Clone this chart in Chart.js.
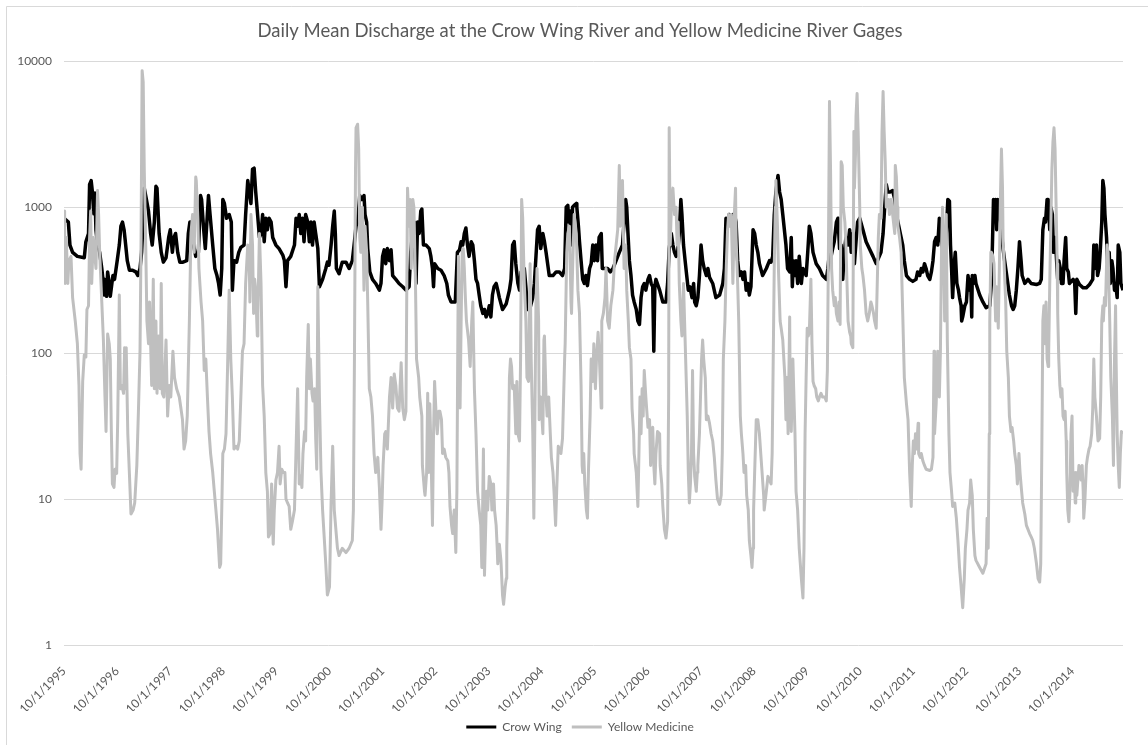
<!DOCTYPE html>
<html>
<head>
<meta charset="utf-8">
<script src="https://cdn.jsdelivr.net/npm/chart.js@4.4.1/dist/chart.umd.min.js"></script>
<style>
  html, body { margin: 0; padding: 0; background: #ffffff; }
  canvas { display: block; }
</style>
</head>
<body>
<canvas id="chart" width="1148" height="745"></canvas>
<script>
// Daily mean discharge (cfs), sampled along each hydrograph; x is the decimal year.
const crowWingYear = [
  1995.75,1995.83,1995.86,1995.91,1996.00,1996.13,1996.16,1996.21,1996.23,1996.26,1996.28,1996.31,1996.33,1996.35,1996.38,1996.42,
  1996.46,1996.49,1996.50,1996.52,1996.55,1996.57,1996.60,1996.62,1996.65,1996.67,1996.70,1996.72,1996.75,1996.79,1996.82,1996.85,
  1996.88,1996.91,1996.94,1996.98,1997.04,1997.10,1997.14,1997.18,1997.21,1997.25,1997.26,1997.30,1997.34,1997.38,1997.41,1997.45,
  1997.48,1997.50,1997.54,1997.58,1997.62,1997.67,1997.72,1997.75,1997.79,1997.82,1997.85,1997.89,1997.93,1997.99,1998.06,1998.09,
  1998.12,1998.16,1998.19,1998.23,1998.28,1998.32,1998.34,1998.38,1998.41,1998.44,1998.47,1998.50,1998.55,1998.59,1998.63,1998.66,
  1998.69,1998.72,1998.74,1998.77,1998.81,1998.86,1998.90,1998.92,1998.95,1999.00,1999.04,1999.08,1999.14,1999.17,1999.21,1999.24,
  1999.27,1999.30,1999.33,1999.36,1999.39,1999.43,1999.46,1999.49,1999.52,1999.55,1999.58,1999.61,1999.65,1999.68,1999.74,1999.80,
  1999.87,1999.90,1999.93,1999.96,2000.02,2000.09,2000.12,2000.15,2000.18,2000.21,2000.24,2000.27,2000.30,2000.34,2000.37,2000.40,
  2000.43,2000.46,2000.49,2000.53,2000.56,2000.62,2000.68,2000.71,2000.74,2000.78,2000.81,2000.84,2000.86,2000.88,2000.93,2000.99,
  2001.06,2001.12,2001.18,2001.22,2001.25,2001.28,2001.32,2001.36,2001.40,2001.42,2001.45,2001.47,2001.51,2001.56,2001.62,2001.69,
  2001.72,2001.75,2001.78,2001.81,2001.84,2001.88,2001.91,2001.94,2002.00,2002.06,2002.13,2002.19,2002.25,2002.28,2002.32,2002.35,
  2002.38,2002.41,2002.44,2002.47,2002.49,2002.52,2002.57,2002.63,2002.66,2002.69,2002.71,2002.73,2002.79,2002.85,2002.91,2002.96,
  2002.99,2003.04,2003.12,2003.16,2003.20,2003.23,2003.26,2003.29,2003.32,2003.35,2003.38,2003.42,2003.45,2003.48,2003.51,2003.54,
  2003.57,2003.60,2003.64,2003.67,2003.70,2003.73,2003.76,2003.79,2003.82,2003.85,2003.89,2003.92,2003.95,2004.01,2004.08,2004.14,
  2004.17,2004.20,2004.23,2004.26,2004.30,2004.33,2004.36,2004.42,2004.45,2004.48,2004.53,2004.58,2004.61,2004.64,2004.67,2004.70,
  2004.73,2004.77,2004.80,2004.83,2004.89,2004.96,2005.02,2005.08,2005.14,2005.18,2005.21,2005.24,2005.26,2005.28,2005.30,2005.33,
  2005.36,2005.40,2005.41,2005.44,2005.46,2005.49,2005.52,2005.55,2005.58,2005.61,2005.65,2005.68,2005.71,2005.74,2005.77,2005.80,
  2005.83,2005.87,2005.89,2005.93,2005.99,2006.04,2006.09,2006.15,2006.21,2006.27,2006.33,2006.35,2006.37,2006.40,2006.43,2006.46,
  2006.49,2006.53,2006.56,2006.59,2006.62,2006.65,2006.68,2006.71,2006.75,2006.78,2006.81,2006.84,2006.86,2006.88,2006.90,2006.97,
  2007.03,2007.09,2007.12,2007.15,2007.19,2007.22,2007.25,2007.28,2007.31,2007.34,2007.37,2007.39,2007.42,2007.45,2007.48,2007.51,
  2007.54,2007.58,2007.61,2007.63,2007.66,2007.69,2007.72,2007.75,2007.78,2007.81,2007.85,2007.88,2007.91,2007.97,2008.03,2008.10,
  2008.16,2008.19,2008.22,2008.25,2008.28,2008.32,2008.35,2008.38,2008.41,2008.44,2008.47,2008.51,2008.54,2008.57,2008.60,2008.63,
  2008.66,2008.69,2008.73,2008.76,2008.79,2008.82,2008.85,2008.91,2008.98,2009.04,2009.07,2009.10,2009.13,2009.16,2009.20,2009.23,
  2009.26,2009.29,2009.32,2009.35,2009.38,2009.42,2009.45,2009.47,2009.49,2009.52,2009.54,2009.57,2009.60,2009.64,2009.67,2009.73,
  2009.76,2009.79,2009.82,2009.86,2009.92,2009.98,2010.04,2010.11,2010.14,2010.17,2010.20,2010.23,2010.26,2010.30,2010.33,2010.36,
  2010.39,2010.42,2010.45,2010.48,2010.52,2010.55,2010.58,2010.61,2010.64,2010.67,2010.70,2010.74,2010.80,2010.86,2010.92,2010.99,
  2011.05,2011.14,2011.18,2011.21,2011.24,2011.27,2011.31,2011.36,2011.40,2011.43,2011.46,2011.49,2011.52,2011.55,2011.58,2011.62,
  2011.68,2011.74,2011.80,2011.83,2011.87,2011.90,2011.93,2011.96,2011.99,2012.02,2012.06,2012.09,2012.12,2012.15,2012.18,2012.21,
  2012.24,2012.27,2012.31,2012.34,2012.37,2012.40,2012.43,2012.45,2012.47,2012.49,2012.52,2012.54,2012.57,2012.60,2012.62,2012.65,
  2012.66,2012.68,2012.72,2012.75,2012.78,2012.81,2012.83,2012.85,2012.86,2012.88,2012.91,2012.93,2013.00,2013.06,2013.12,2013.19,
  2013.22,2013.24,2013.26,2013.28,2013.30,2013.32,2013.34,2013.36,2013.39,2013.41,2013.44,2013.47,2013.50,2013.53,2013.56,2013.60,
  2013.63,2013.66,2013.69,2013.72,2013.75,2013.78,2013.80,2013.85,2013.91,2013.97,2014.07,2014.13,2014.16,2014.19,2014.22,2014.24,
  2014.27,2014.29,2014.32,2014.34,2014.37,2014.39,2014.42,2014.44,2014.47,2014.49,2014.52,2014.54,2014.57,2014.59,2014.62,2014.64,
  2014.67,2014.69,2014.76,2014.79,2014.81,2014.83,2014.88,2014.95,2015.01,2015.07,2015.13,2015.15,2015.17,2015.20,2015.22,2015.25,
  2015.27,2015.30,2015.32,2015.34,2015.36,2015.39,2015.41,2015.44,2015.46,2015.49,2015.51,2015.54,2015.56,2015.59,2015.61,2015.64,
  2015.66,2015.70
];
const crowWingFlow = [
  840,790,550,490,460,450,580,660,1430,1520,1300,900,1250,700,550,490,
  380,300,250,320,245,360,300,245,300,340,320,360,430,550,740,790,
  700,550,430,370,370,360,340,380,490,1000,1350,1130,940,660,550,790,
  1390,1350,660,490,420,450,620,700,490,620,660,490,420,420,430,660,
  790,790,550,460,490,1200,1130,700,520,790,1200,890,550,380,340,300,
  250,380,1130,1060,840,890,790,270,430,420,490,530,550,890,1520,1270,
  1060,1820,1850,1270,940,620,660,890,580,840,700,840,790,620,550,520,
  470,430,285,430,460,550,840,740,890,660,840,580,890,790,580,790,
  550,790,660,520,285,320,380,420,400,550,740,940,660,380,350,420,
  420,380,430,580,740,790,1200,1130,1200,890,790,520,360,320,300,270,
  300,460,510,410,520,430,510,340,320,300,285,270,285,490,700,790,
  300,790,660,940,970,550,550,520,460,380,285,410,380,370,340,300,
  250,224,224,490,510,580,550,660,720,550,460,580,550,430,320,300,
  250,211,187,199,177,187,211,177,250,285,300,270,240,199,218,270,
  320,550,580,410,300,270,360,380,285,199,205,240,300,460,700,740,
  520,660,580,490,340,340,360,360,340,380,1000,1030,790,940,550,1000,
  1030,1060,1000,740,580,430,320,300,340,290,380,410,550,430,550,430,
  620,660,380,380,380,360,380,430,490,550,1130,1000,700,430,340,250,
  224,199,166,157,240,285,300,270,320,340,300,285,103,285,320,270,
  224,224,300,520,660,550,490,460,490,660,1130,890,550,430,340,270,
  285,240,300,224,211,240,340,550,430,380,340,380,330,300,240,250,
  300,380,840,790,890,740,890,890,790,430,340,360,320,360,270,300,
  250,285,700,660,550,490,410,340,380,430,420,460,890,1270,1650,1270,
  1130,890,700,550,380,360,620,285,430,340,430,300,460,300,380,340,
  490,740,660,490,410,380,340,320,380,490,460,520,580,790,840,520,
  550,320,490,620,550,700,490,660,410,580,790,840,700,580,520,460,
  410,490,660,1000,1430,1270,1270,1300,1130,890,790,700,620,550,430,340,
  320,310,320,360,340,380,360,410,380,340,320,360,430,580,620,550,
  840,620,490,460,660,1130,1100,550,380,240,410,490,300,270,240,211,
  166,177,211,224,340,270,320,177,340,300,340,300,250,224,205,211,
  300,550,1130,890,1130,700,1130,1000,840,660,520,430,360,300,250,211,
  199,211,270,380,580,430,340,300,320,300,295,300,320,700,840,790,
  1130,1130,700,1000,890,490,620,490,320,430,380,300,300,430,620,380,
  360,300,320,300,187,320,295,280,280,295,320,550,380,550,340,380,
  490,790,1520,1350,890,620,410,490,300,430,380,270,300,240,550,490,
  300,270
];

const yellowMedicineYear = [
  1995.75,1995.76,1995.77,1995.79,1995.82,1995.84,1995.88,1995.91,1995.96,1996.00,1996.03,1996.05,1996.07,1996.10,1996.13,1996.16,
  1996.18,1996.21,1996.23,1996.25,1996.27,1996.30,1996.35,1996.38,1996.40,1996.42,1996.46,1996.49,1996.52,1996.54,1996.57,1996.60,
  1996.62,1996.64,1996.66,1996.69,1996.71,1996.74,1996.76,1996.79,1996.81,1996.84,1996.87,1996.89,1996.91,1996.92,1996.95,1996.98,
  1997.01,1997.05,1997.08,1997.12,1997.15,1997.18,1997.20,1997.22,1997.24,1997.26,1997.29,1997.31,1997.34,1997.36,1997.40,1997.43,
  1997.45,1997.48,1997.50,1997.53,1997.56,1997.58,1997.60,1997.63,1997.67,1997.70,1997.73,1997.76,1997.80,1997.83,1997.87,1997.92,
  1997.95,1997.98,1998.01,1998.04,1998.07,1998.11,1998.14,1998.17,1998.20,1998.23,1998.24,1998.27,1998.29,1998.33,1998.36,1998.39,
  1998.42,1998.45,1998.48,1998.51,1998.55,1998.58,1998.61,1998.64,1998.66,1998.68,1998.70,1998.72,1998.74,1998.77,1998.80,1998.83,
  1998.86,1998.89,1998.92,1998.95,1998.99,1999.02,1999.05,1999.08,1999.11,1999.14,1999.17,1999.21,1999.24,1999.25,1999.27,1999.30,
  1999.32,1999.34,1999.36,1999.39,1999.40,1999.43,1999.46,1999.49,1999.52,1999.55,1999.58,1999.60,1999.63,1999.66,1999.69,1999.71,
  1999.74,1999.77,1999.80,1999.82,1999.85,1999.88,1999.91,1999.93,1999.96,1999.99,2000.02,2000.05,2000.09,2000.12,2000.15,2000.18,
  2000.21,2000.23,2000.25,2000.28,2000.30,2000.32,2000.35,2000.37,2000.39,2000.42,2000.44,2000.47,2000.49,2000.51,2000.53,2000.56,
  2000.59,2000.62,2000.65,2000.68,2000.71,2000.75,2000.78,2000.81,2000.84,2000.87,2000.90,2000.93,2000.99,2001.06,2001.12,2001.18,
  2001.20,2001.22,2001.24,2001.25,2001.28,2001.30,2001.32,2001.34,2001.35,2001.37,2001.39,2001.40,2001.42,2001.45,2001.47,2001.50,
  2001.53,2001.56,2001.59,2001.62,2001.66,2001.69,2001.72,2001.74,2001.76,2001.79,2001.81,2001.84,2001.88,2001.91,2001.94,2001.97,
  2002.00,2002.03,2002.06,2002.10,2002.13,2002.16,2002.19,2002.22,2002.25,2002.27,2002.29,2002.32,2002.34,2002.37,2002.39,2002.43,
  2002.45,2002.49,2002.50,2002.54,2002.55,2002.58,2002.60,2002.62,2002.64,2002.66,2002.68,2002.69,2002.71,2002.73,2002.76,2002.78,
  2002.81,2002.83,2002.86,2002.88,2002.91,2002.94,2002.98,2003.00,2003.02,2003.05,2003.07,2003.10,2003.13,2003.15,2003.17,2003.18,
  2003.21,2003.23,2003.25,2003.27,2003.29,2003.31,2003.33,2003.37,2003.40,2003.43,2003.45,2003.48,2003.51,2003.54,2003.57,2003.60,
  2003.62,2003.65,2003.67,2003.69,2003.71,2003.73,2003.76,2003.79,2003.81,2003.84,2003.86,2003.89,2003.91,2003.92,2003.95,2003.98,
  2004.01,2004.03,2004.06,2004.08,2004.09,2004.11,2004.13,2004.14,2004.16,2004.18,2004.20,2004.23,2004.26,2004.28,2004.30,2004.33,
  2004.35,2004.37,2004.39,2004.42,2004.45,2004.47,2004.50,2004.52,2004.53,2004.55,2004.58,2004.60,2004.62,2004.64,2004.66,2004.69,
  2004.70,2004.73,2004.77,2004.79,2004.80,2004.83,2004.85,2004.88,2004.91,2004.93,2004.96,2004.98,2005.01,2005.03,2005.06,2005.08,
  2005.11,2005.14,2005.18,2005.19,2005.22,2005.24,2005.27,2005.30,2005.31,2005.33,2005.36,2005.40,2005.43,2005.46,2005.49,2005.51,
  2005.52,2005.54,2005.56,2005.59,2005.61,2005.63,2005.66,2005.68,2005.71,2005.73,2005.76,2005.78,2005.81,2005.83,2005.87,2005.88,
  2005.91,2005.94,2005.96,2005.99,2006.02,2006.05,2006.09,2006.12,2006.15,2006.18,2006.21,2006.23,2006.25,2006.27,2006.30,2006.33,
  2006.35,2006.38,2006.40,2006.43,2006.45,2006.48,2006.49,2006.53,2006.56,2006.58,2006.60,2006.62,2006.64,2006.66,2006.68,2006.71,
  2006.75,2006.78,2006.80,2006.81,2006.84,2006.86,2006.88,2006.90,2006.93,2006.97,2006.98,2007.01,2007.03,2007.06,2007.09,2007.12,
  2007.14,2007.15,2007.17,2007.19,2007.22,2007.25,2007.28,2007.30,2007.32,2007.34,2007.37,2007.39,2007.42,2007.44,2007.47,2007.49,
  2007.51,2007.53,2007.55,2007.57,2007.59,2007.61,2007.63,2007.66,2007.68,2007.69,2007.72,2007.74,2007.76,2007.78,2007.80,2007.83,
  2007.85,2007.88,2007.91,2007.94,2007.97,2008.00,2008.03,2008.06,2008.10,2008.13,2008.15,2008.17,2008.20,2008.22,2008.25,2008.27,
  2008.30,2008.32,2008.35,2008.38,2008.40,2008.41,2008.44,2008.46,2008.49,2008.51,2008.54,2008.56,2008.59,2008.61,2008.64,2008.66,
  2008.69,2008.71,2008.73,2008.74,2008.76,2008.79,2008.82,2008.85,2008.88,2008.90,2008.93,2008.94,2008.98,2009.01,2009.04,2009.07,
  2009.09,2009.11,2009.13,2009.15,2009.16,2009.19,2009.21,2009.24,2009.26,2009.29,2009.31,2009.33,2009.35,2009.37,2009.39,2009.42,
  2009.43,2009.45,2009.48,2009.50,2009.52,2009.54,2009.57,2009.60,2009.64,2009.67,2009.69,2009.71,2009.73,2009.75,2009.77,2009.79,
  2009.82,2009.84,2009.86,2009.88,2009.91,2009.93,2009.96,2009.98,2010.01,2010.04,2010.08,2010.11,2010.13,2010.15,2010.17,2010.19,
  2010.21,2010.23,2010.26,2010.28,2010.30,2010.33,2010.35,2010.37,2010.39,2010.41,2010.43,2010.46,2010.48,2010.50,2010.52,2010.55,
  2010.57,2010.58,2010.61,2010.63,2010.64,2010.66,2010.67,2010.69,2010.71,2010.74,2010.75,2010.78,2010.80,2010.83,2010.86,2010.89,
  2010.92,2010.95,2010.97,2011.00,2011.02,2011.05,2011.07,2011.09,2011.11,2011.14,2011.16,2011.18,2011.20,2011.22,2011.24,2011.26,
  2011.28,2011.30,2011.33,2011.36,2011.40,2011.41,2011.43,2011.45,2011.46,2011.49,2011.52,2011.55,2011.58,2011.62,2011.65,2011.68,
  2011.71,2011.73,2011.75,2011.77,2011.79,2011.81,2011.84,2011.85,2011.88,2011.90,2011.93,2011.96,2011.99,2012.06,2012.09,2012.12,
  2012.14,2012.15,2012.18,2012.21,2012.24,2012.26,2012.28,2012.30,2012.32,2012.34,2012.37,2012.39,2012.42,2012.44,2012.47,2012.49,
  2012.53,2012.56,2012.59,2012.62,2012.65,2012.68,2012.71,2012.73,2012.76,2012.78,2012.81,2012.83,2012.86,2012.88,2012.91,2012.93,
  2013.00,2013.06,2013.12,2013.14,2013.16,2013.18,2013.19,2013.21,2013.22,2013.25,2013.27,2013.30,2013.32,2013.35,2013.37,2013.39,
  2013.41,2013.43,2013.44,2013.46,2013.49,2013.51,2013.54,2013.56,2013.59,2013.61,2013.64,2013.66,2013.69,2013.71,2013.74,2013.76,
  2013.79,2013.81,2013.85,2013.88,2013.91,2013.94,2013.97,2014.00,2014.03,2014.07,2014.10,2014.13,2014.15,2014.17,2014.19,2014.21,
  2014.23,2014.25,2014.27,2014.29,2014.30,2014.32,2014.34,2014.36,2014.38,2014.40,2014.42,2014.44,2014.46,2014.47,2014.49,2014.51,
  2014.53,2014.55,2014.57,2014.59,2014.61,2014.63,2014.64,2014.66,2014.68,2014.70,2014.72,2014.74,2014.76,2014.78,2014.80,2014.81,
  2014.83,2014.85,2014.87,2014.89,2014.91,2014.93,2014.95,2014.96,2014.98,2015.01,2015.03,2015.06,2015.08,2015.11,2015.13,2015.15,
  2015.17,2015.20,2015.22,2015.23,2015.26,2015.28,2015.30,2015.32,2015.33,2015.35,2015.37,2015.40,2015.42,2015.45,2015.47,2015.50,
  2015.52,2015.54,2015.56,2015.57,2015.59,2015.61,2015.63,2015.65,2015.67,2015.70
];
const yellowMedicineFlow = [
  940,380,300,620,300,430,460,240,166,116,60,20.5,16,64,97,94,
  199,211,620,940,300,620,380,1300,890,490,224,123,50,29,135,116,
  91,29,12.7,12,16,15,35,250,57,60,53,109,57,109,28,15,
  7.9,8.4,9.4,17,40,103,620,8600,7200,1820,490,166,116,224,60,320,
  57,166,53,131,57,300,53,50,123,37,60,50,103,68,57,50,
  42,35,22,25,37,166,660,890,490,1610,1520,840,380,224,166,76,
  91,50,29,20.5,15.2,11.3,8.4,6.2,4.6,3.4,3.6,8.4,20.5,22,28,81,
  270,91,50,22,23,22,25,50,103,116,300,550,380,224,890,550,
  187,320,270,131,187,660,300,60,37,15.2,11.3,5.5,5.8,12.7,4.9,8.4,
  13.5,15.2,23,12.7,16,15.2,15.2,10,9.4,8.9,6.2,7,8.4,22,57,12.7,
  14.3,12,20.5,29,25,68,157,57,91,53,47,57,26,16,285,50,
  15.2,8.4,5.5,3.6,2.2,2.5,9.4,23,8.4,6.2,4.6,4.1,4.6,4.3,4.6,5.2,
  8.4,91,1820,3500,3700,2500,620,490,660,1000,430,270,740,490,224,57,
  50,37,20.5,15.2,19.3,12,6.2,9.4,17,28,29,22,50,68,42,72,
  60,42,40,86,42,35,40,1350,740,1130,380,1130,1000,300,91,68,
  50,37,17,11.3,10.6,15.2,53,15.2,45,23,10,6.6,28,64,37,28,
  40,40,35,20.5,22,19.3,18.2,15.2,8.9,6.6,5.8,8.4,4.3,11.3,166,460,
  42,166,490,520,380,240,166,123,81,166,224,57,28,11.3,8.4,6.6,
  3.4,22,3,5.8,11.3,8.4,14.3,12.7,8.4,12.7,8.4,6.6,4.6,3.6,4.9,3.8,
  2.2,1.9,2.5,2.85,4.6,11.3,35,68,91,81,57,60,28,64,28,25,
  91,1130,840,300,166,68,64,240,410,91,28,7.4,37,224,380,166,
  35,50,28,123,131,50,37,50,28,19.3,15.2,11.3,6.6,11.3,23,22,
  20.5,26,91,116,490,660,740,224,187,380,890,660,270,187,60,17,
  15.2,20.5,12.7,8.4,7.4,16,37,91,64,116,57,91,139,103,42,166,
  187,240,380,166,148,211,270,430,550,700,1930,740,1130,1520,380,550,
  270,166,109,91,42,28,20.5,15.2,8.9,20.5,50,28,57,37,76,50,
  31,35,17,20.5,31,17,12.7,20.5,29,28,17,12.7,8.9,6.2,5.4,7,
  50,3500,550,1000,1350,890,1000,550,790,300,166,131,300,166,68,37,
  15.2,9.4,12.7,20.5,76,20.5,14.3,11.3,15.2,17,28,50,91,123,91,68,
  35,37,33,28,25,19.3,13.5,10,9.2,10.6,20.5,91,166,340,700,890,
  740,890,300,940,1350,620,300,166,37,28,20.5,15.2,17,10.6,8.4,5.2,
  4.1,3.4,4.6,8.4,15.2,35,35,28,19.3,15.2,10.6,8.4,11.3,14.3,13.5,12.7,
  20.5,91,410,1000,1520,740,360,166,148,123,91,68,35,68,28,177,
  50,29,91,50,28,11.3,8.4,4.6,2.85,2.1,4.6,28,68,148,131,139,
  320,116,64,60,57,50,47,50,53,50,50,47,76,490,5300,1820,
  380,270,211,240,187,166,224,157,2050,1930,1000,790,550,300,166,139,
  131,116,109,3300,1350,2300,4200,6000,3300,1000,550,380,340,270,187,166,
  187,224,211,187,166,148,300,620,890,840,3300,6200,3300,2050,1000,1130,
  1130,890,1130,890,660,1930,1610,1000,740,620,490,187,68,45,35,15.2,
  8.9,17,25,20.5,28,22,33,20.5,19.3,20.5,18.2,17,16,15.7,16,19.3,
  103,28,45,103,50,103,490,1000,550,166,890,123,28,15.2,11.3,8.9,
  9.4,7.4,5.2,3.4,2.5,1.8,2.85,4.6,6.2,8.4,9.4,13.5,10.6,6.2,4.1,3.8,
  3.4,3.1,3.6,7.4,4.6,28,166,490,490,460,410,166,285,148,380,1130,
  2500,1350,620,410,224,103,68,37,29,31,25,20.5,17,12.7,20.5,15.2,
  11.3,9.4,7.9,6.6,6.2,5.8,5.5,5.2,4.6,3.6,2.85,2.7,3.6,20.5,166,211,
  116,224,91,81,103,300,740,1820,2800,3500,2500,1000,410,187,91,60,
  50,57,37,35,40,25,15.2,8.4,7,11.3,28,37,11.3,15.2,9.4,15.2,
  10.6,13.5,17,16,13.5,17,11.3,7.4,9.4,17,19.3,22,23,28,42,91,
  50,37,28,25,26,50,166,211,166,240,211,550,490,166,68,37,
  17,91,211,91,28,17,12,20.5,29,28
];

const firstWaterYear = 1995;
const lastWaterYear = 2014;
const seriesNames = ['Crow Wing', 'Yellow Medicine'];
const seriesColors = ['#000000', '#bfbfbf'];
const titleText = 'Daily Mean Discharge at the Crow Wing River and Yellow Medicine River Gages';
const decadeTicks = [1, 10, 100, 1000, 10000];

// Decimal-year position of October 1st for a given year
function octoberFirst(y) {
  const start = Date.UTC(y, 0, 1), end = Date.UTC(y + 1, 0, 1);
  return y + (Date.UTC(y, 9, 1) - start) / (end - start);
}
const waterYearStarts = [];
for (let y = firstWaterYear; y <= lastWaterYear; y++) waterYearStarts.push(octoberFirst(y));

const toPoints = (xs, ys) => xs.map((x, i) => ({ x: x, y: ys[i] }));

const textColor = '#595959';
const gridColor = '#d9d9d9';
const fontFamily = 'Lato, "Liberation Sans", sans-serif';

// White page with the light frame along the top and left edges
const frame = {
  id: 'frame',
  beforeDraw(chart) {
    const ctx = chart.ctx;
    ctx.save();
    ctx.fillStyle = '#ffffff';
    ctx.fillRect(0, 0, chart.width, chart.height);
    ctx.strokeStyle = gridColor;
    ctx.lineWidth = 1;
    ctx.beginPath();
    ctx.moveTo(6.5, chart.height);
    ctx.lineTo(6.5, 6.5);
    ctx.lineTo(chart.width, 6.5);
    ctx.stroke();
    ctx.restore();
  }
};

new Chart(document.getElementById('chart'), {
  type: 'line',
  data: {
    datasets: [
      {
        label: seriesNames[0],
        data: toPoints(crowWingYear, crowWingFlow),
        borderColor: seriesColors[0],
        backgroundColor: seriesColors[0],
        borderWidth: 3.5,
        pointRadius: 0,
        tension: 0,
        borderJoinStyle: 'round',
        order: 1
      },
      {
        label: seriesNames[1],
        data: toPoints(yellowMedicineYear, yellowMedicineFlow),
        borderColor: seriesColors[1],
        backgroundColor: seriesColors[1],
        borderWidth: 3,
        pointRadius: 0,
        tension: 0,
        borderJoinStyle: 'round',
        order: 0
      }
    ]
  },
  options: {
    responsive: false,
    animation: false,
    events: [],
    layout: { padding: { left: 12, right: 0, top: 0, bottom: 2 } },
    scales: {
      x: {
        type: 'linear',
        min: waterYearStarts[0],
        max: yellowMedicineYear[yellowMedicineYear.length - 1],
        afterBuildTicks(scale) {
          scale.ticks = waterYearStarts.map(v => ({ value: v }));
        },
        afterFit(scale) { scale.height = 66; },
        grid: { display: false },
        border: { display: false },
        ticks: {
          autoSkip: false,
          minRotation: 45,
          maxRotation: 45,
          padding: 11,
          color: textColor,
          font: { family: fontFamily, size: 12 },
          callback: v => '10/1/' + Math.floor(v)
        }
      },
      y: {
        type: 'logarithmic',
        min: 1,
        max: 10000,
        afterBuildTicks(scale) {
          scale.ticks = decadeTicks.map(v => ({ value: v }));
        },
        afterFit(scale) { scale.width = 52; },
        grid: { color: gridColor, lineWidth: 1, drawTicks: false },
        border: { display: false },
        ticks: {
          padding: 12,
          color: textColor,
          font: { family: fontFamily, size: 12 },
          callback: v => String(v)
        }
      },
      // empty margin to the right of the plot
      margin: {
        type: 'linear',
        position: 'right',
        afterFit(scale) { scale.width = 25; },
        grid: { display: false },
        border: { display: false },
        ticks: { display: false }
      }
    },
    plugins: {
      title: {
        display: true,
        text: titleText,
        color: textColor,
        font: { family: fontFamily, size: 18.5, weight: 'normal' },
        padding: { top: 20, bottom: 19 }
      },
      legend: {
        position: 'bottom',
        labels: {
          boxWidth: 30,
          boxHeight: 3,
          padding: 10,
          color: textColor,
          font: { family: fontFamily, size: 12 },
          sort: (a, b) => a.datasetIndex - b.datasetIndex,
          generateLabels(chart) {
            return Chart.defaults.plugins.legend.labels.generateLabels(chart)
              .map(item => Object.assign(item, { lineWidth: 0, fillStyle: item.strokeStyle }));
          }
        }
      },
      tooltip: { enabled: false }
    }
  },
  plugins: [frame]
});
</script>
</body>
</html>
